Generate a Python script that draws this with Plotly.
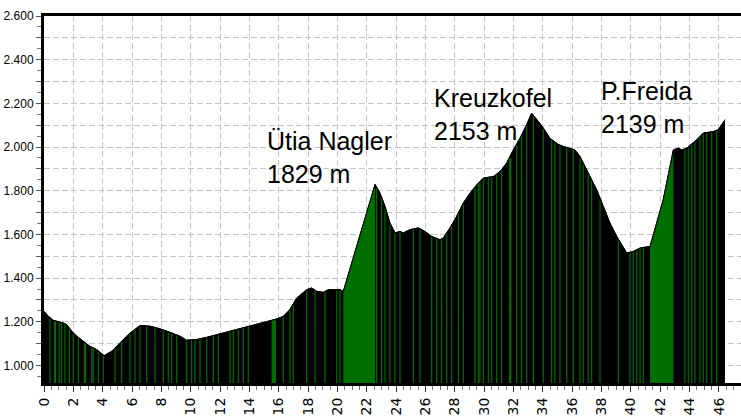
import numpy as np
import plotly.graph_objects as go

# ---------------- data ----------------
km = [0.0, 0.3, 0.63, 1.0, 1.32, 1.55, 1.89, 2.23, 2.68, 3.13, 3.59, 4.1, 4.61, 5.18, 5.75,
      6.32, 6.54, 7.22, 7.9, 8.59, 9.27, 9.72, 10.4, 11.09, 12.0, 12.9, 14.0, 15.2, 15.8,
      16.31, 16.76, 17.22, 17.9, 18.24, 18.58, 19.03, 19.38, 20.17, 20.4, 22.56, 22.9,
      23.24, 23.58, 23.92, 24.26, 24.49, 24.94, 25.51, 25.96, 26.42, 26.99, 27.21, 27.67,
      28.12, 28.58, 29.03, 29.49, 29.94, 30.62, 31.08, 31.53, 31.98, 32.44, 32.89, 33.23,
      33.69, 34.03, 34.48, 35.05, 35.39, 36.19, 36.53, 36.87, 37.21, 37.66, 38.12, 38.57,
      39.03, 39.71, 40.16, 40.62, 41.3, 42.2, 42.89, 43.23, 43.46, 43.8, 44.48, 44.93,
      45.61, 45.95, 46.41]
elev = [1248, 1225, 1207, 1200, 1195, 1187, 1157, 1134, 1111, 1088, 1073, 1045, 1065, 1104, 1142,
        1172, 1183, 1180, 1168, 1152, 1134, 1116, 1119, 1129, 1145, 1160, 1180, 1203, 1212,
        1225, 1256, 1309, 1347, 1355, 1340, 1335, 1347, 1347, 1340, 1829, 1789,
        1728, 1652, 1607, 1614, 1607, 1622, 1630, 1614, 1591, 1576, 1584, 1630,
        1683, 1744, 1789, 1827, 1858, 1865, 1888, 1927, 1987, 2041, 2102, 2155,
        2117, 2087, 2040, 2012, 2003, 1987, 1957, 1911, 1865, 1805, 1728, 1652,
        1591, 1515, 1522, 1538, 1545, 1759, 1987, 1995, 1987, 1995, 2033, 2064,
        2071, 2079, 2125]

# green (steep) sections along the track, km from-to
green_zones = [(20.4, 22.56), (41.3, 42.89)]
# thin green stripes (km) and their widths (km)
stripe_km = [0.41, 0.75, 1.04, 1.2, 1.43, 1.73, 2.0, 2.34, 2.79, 3.25, 3.36, 3.7, 4.04, 4.84,
             5.29, 5.86, 6.2, 6.54, 7.0, 7.56, 8.13, 8.47, 8.7, 9.04, 9.72, 10.06, 10.29,
             10.63, 11.09, 11.54, 11.88, 12.68, 12.9, 13.24, 13.58, 13.92, 15.66, 16.31,
             16.76, 16.99, 17.9, 18.47, 19.15, 19.95, 20.17, 22.67, 23.01, 23.24, 23.58,
             23.92, 24.26, 25.17, 25.62, 26.42, 26.76, 27.1, 27.44, 27.78, 28.24, 28.58,
             29.37, 29.6, 29.71, 29.94, 30.28, 30.51, 30.85, 31.19, 31.77, 32.21, 32.55,
             32.89, 33.35, 34.03, 34.6, 34.82, 35.16, 35.62, 36.07, 36.53, 36.75, 37.09,
             37.32, 37.89, 39.14, 39.93, 40.16, 40.39, 40.62, 40.84, 43.68, 43.91, 44.14,
             44.36, 44.7, 44.93, 45.16, 45.5, 45.84]
stripe_w = [0.15 if k in (0.75, 2.79, 31.77) else (0.3 if k == 15.66 else 0.08) for k in stripe_km]

peaks = [("Ütia Nagler<br>1829 m", 15.06, 2099),
         ("Kreuzkofel<br>2153 m", 26.44, 2298),
         ("P.Freida<br>2139 m", 37.84, 2330)]

y_tick_vals = list(range(1000, 2700, 100))
y_tick_text = [f"{v // 1000}.{v % 1000:03d}" if v % 200 == 0 else "" for v in y_tick_vals]
x_tick_vals = list(range(0, 48, 2))
x_tick_text = [str(v) for v in x_tick_vals]

GREEN = "#006f00"
Y_MIN, Y_MAX = 920, 2600

# ---------------- figure ----------------
fig = go.Figure()

fig.add_trace(go.Scatter(x=km, y=elev, mode="lines", fill="tozeroy",
                         fillcolor="black", line=dict(color="black", width=1),
                         hoverinfo="skip", showlegend=False))

km_arr = np.array(km)
el_arr = np.array(elev)
for a, b in green_zones:
    m = (km_arr >= a) & (km_arr <= b)
    fig.add_trace(go.Scatter(x=km_arr[m], y=el_arr[m], mode="lines", fill="tozeroy",
                             fillcolor=GREEN, line=dict(color=GREEN, width=0),
                             hoverinfo="skip", showlegend=False))

# thin stripes as filled rectangles (scatter so they sit above the black fill)
sx, sy = [], []
for k, w in zip(stripe_km, stripe_w):
    top = min(np.interp(k - w / 2, km_arr, el_arr), np.interp(k + w / 2, km_arr, el_arr))
    sx += [k - w / 2, k - w / 2, k + w / 2, k + w / 2, None]
    sy += [Y_MIN - 50, top, top, Y_MIN - 50, None]
fig.add_trace(go.Scatter(x=sx, y=sy, mode="lines", fill="toself", fillcolor=GREEN,
                         line=dict(width=0, color=GREEN), connectgaps=False,
                         hoverinfo="skip", showlegend=False))

fig.add_trace(go.Scatter(x=km, y=elev, mode="lines", line=dict(color="black", width=1),
                         hoverinfo="skip", showlegend=False))

for txt, x, y in peaks:
    fig.add_annotation(x=x, y=y, xref="x", yref="y", text=txt, showarrow=False,
                       xanchor="left", yanchor="top", align="left",
                       font=dict(family="Liberation Sans, Arial", size=25, color="black"))

fig.update_layout(
    width=741, height=417,
    margin=dict(l=44, r=0, t=16, b=34),
    paper_bgcolor="white", plot_bgcolor="white",
    xaxis=dict(range=[0, 47.5], tickvals=x_tick_vals, ticktext=x_tick_text,
               tickangle=-90, ticks="outside", ticklen=6, tickwidth=1, tickcolor="#333",
               tickfont=dict(family="DejaVu Sans", size=14, color="black"),
               showgrid=True, gridcolor="#c4c4c4", griddash="6px,3px", gridwidth=1,
               showline=True, linecolor="black", linewidth=3, mirror=True,
               minor=dict(dtick=0.5, ticks="outside", ticklen=4, tickcolor="#777", showgrid=False),
               zeroline=False, fixedrange=True, automargin=False),
    yaxis=dict(range=[Y_MIN, Y_MAX], tickvals=y_tick_vals, ticktext=y_tick_text,
               ticks="outside", ticklen=5, tickwidth=1, tickcolor="#555",
               tickfont=dict(family="Liberation Sans, Arial", size=12, color="black"),
               showgrid=True, gridcolor="#c4c4c4", griddash="6px,3px", gridwidth=1,
               showline=True, linecolor="black", linewidth=3,
               minor=dict(dtick=50, ticks="outside", ticklen=4, tickcolor="#777", showgrid=False),
               zeroline=False, fixedrange=True, automargin=False),
)

fig.write_html("out.html", config={"displayModeBar": False},
               post_script="document.body.style.margin='0';")
